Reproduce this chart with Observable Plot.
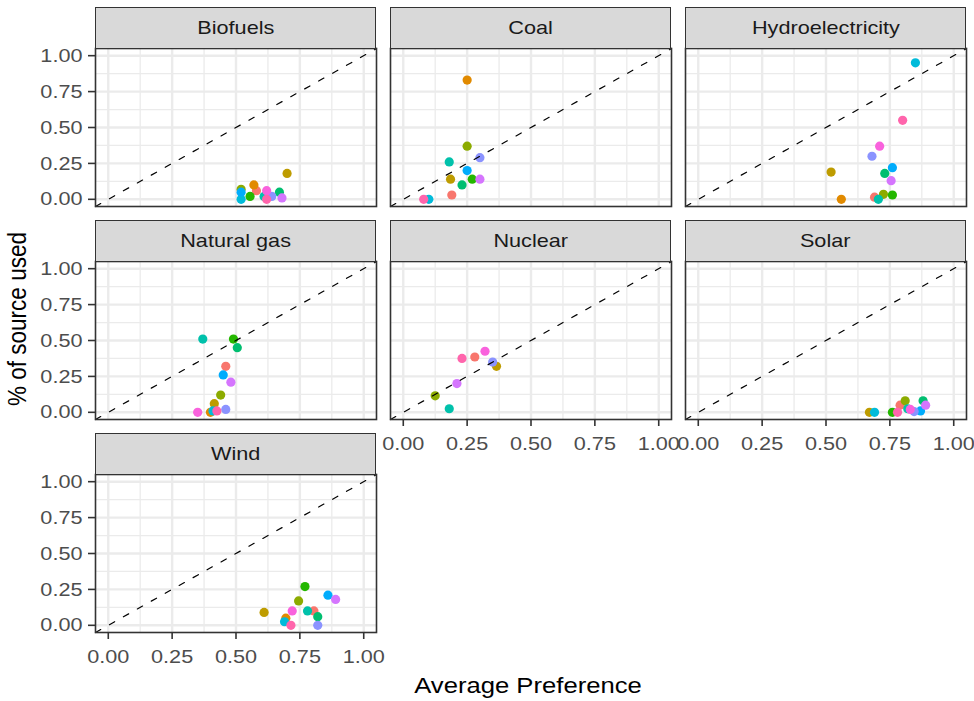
<!DOCTYPE html>
<html>
<head>
<meta charset="utf-8">
<script src="https://cdn.jsdelivr.net/npm/d3@7"></script>
<script src="https://cdn.jsdelivr.net/npm/@observablehq/plot@0.6"></script>
<style>
  body { margin: 0; background: #fff; }
  #chart { position: relative; width: 974px; height: 701px; overflow: hidden;
           font-family: "Liberation Sans", Arial, sans-serif; }
  .strip { position: absolute; box-sizing: border-box; background: #D9D9D9;
           border: 1.6px solid #333; display: flex; align-items: center;
           justify-content: center; color: #1A1A1A; font-size: 19px; }
  .strip span { display: inline-block; transform: scaleX(1.14); }
  .panel { position: absolute; }
  .title { position: absolute; color: #000; font-size: 22.5px; white-space: nowrap; }
</style>
</head>
<body>
<div id="chart"></div>
<script>
// Energy sources, one facet each (wrapped into 3 columns)
const sources = ["Biofuels", "Coal", "Hydroelectricity", "Natural gas", "Nuclear", "Solar", "Wind"];

// Colour groups (13 levels, default hue palette)
const groups = ["g01", "g02", "g03", "g04", "g05", "g06", "g07", "g08", "g09", "g10", "g11", "g12", "g13"];
const palette = ["#F8766D", "#E18A00", "#BE9C00", "#8CAB00", "#24B700", "#00BE70", "#00C1AB",
                 "#00BBDA", "#00ACFC", "#8B93FF", "#D575FE", "#F962DD", "#FF65AC"];

// Per source: group index, average preference, share of the source used
const biofuelsGroup = [0, 1, 2, 3, 4, 5, 6, 7, 8, 9, 10, 11, 12];
const biofuelsPref  = [0.58, 0.57, 0.70, 0.52, 0.555, 0.67, 0.61, 0.52, 0.52, 0.64, 0.68, 0.62, 0.62];
const biofuelsUsed  = [0.06, 0.10, 0.18, 0.07, 0.02, 0.05, 0.02, 0.00, 0.05, 0.02, 0.01, 0.06, 0.00];

const coalGroup = [0, 1, 2, 3, 4, 5, 6, 7, 8, 9, 10, 12];
const coalPref  = [0.19, 0.25, 0.185, 0.25, 0.27, 0.23, 0.18, 0.10, 0.25, 0.30, 0.30, 0.08];
const coalUsed  = [0.03, 0.83, 0.14, 0.37, 0.14, 0.10, 0.26, 0.00, 0.20, 0.29, 0.14, 0.00];

const hydroGroup = [0, 1, 2, 3, 4, 5, 6, 7, 8, 9, 10, 11, 12];
const hydroPref  = [0.69, 0.56, 0.52, 0.725, 0.76, 0.73, 0.705, 0.85, 0.76, 0.68, 0.755, 0.71, 0.80];
const hydroUsed  = [0.015, 0.00, 0.19, 0.035, 0.03, 0.18, 0.00, 0.95, 0.22, 0.30, 0.13, 0.37, 0.55];

const gasGroup = [0, 1, 2, 3, 4, 5, 6, 7, 8, 9, 10, 11, 12];
const gasPref  = [0.46, 0.40, 0.415, 0.44, 0.49, 0.505, 0.37, 0.41, 0.45, 0.46, 0.48, 0.35, 0.425];
const gasUsed  = [0.32, 0.00, 0.06, 0.12, 0.51, 0.45, 0.51, 0.01, 0.26, 0.02, 0.21, 0.00, 0.01];

const nuclearGroup = [0, 2, 3, 6, 9, 10, 11, 12];
const nuclearPref  = [0.28, 0.365, 0.125, 0.18, 0.35, 0.21, 0.32, 0.23];
const nuclearUsed  = [0.385, 0.32, 0.115, 0.025, 0.35, 0.20, 0.425, 0.375];

const solarGroup = [0, 2, 3, 4, 5, 6, 7, 8, 9, 10, 11, 12];
const solarPref  = [0.79, 0.67, 0.81, 0.76, 0.88, 0.82, 0.69, 0.87, 0.845, 0.89, 0.83, 0.78];
const solarUsed  = [0.05, 0.00, 0.08, 0.00, 0.08, 0.025, 0.00, 0.01, 0.005, 0.05, 0.02, 0.00];

const windGroup = [0, 1, 2, 3, 4, 5, 6, 7, 8, 9, 10, 11, 12];
const windPref  = [0.805, 0.695, 0.61, 0.745, 0.77, 0.82, 0.78, 0.69, 0.86, 0.82, 0.89, 0.72, 0.715];
const windUsed  = [0.10, 0.05, 0.09, 0.17, 0.27, 0.06, 0.10, 0.025, 0.21, 0.00, 0.18, 0.10, 0.00];

// Axis ticks
const majorTicks = [0, 0.25, 0.5, 0.75, 1];
const minorTicks = [0.125, 0.375, 0.625, 0.875];
const axisDomain = [-0.05, 1.05];

// Reference line y = intercept + slope * x
const refIntercept = 0, refSlope = 1;

const series = [
  [biofuelsGroup, biofuelsPref, biofuelsUsed],
  [coalGroup, coalPref, coalUsed],
  [hydroGroup, hydroPref, hydroUsed],
  [gasGroup, gasPref, gasUsed],
  [nuclearGroup, nuclearPref, nuclearUsed],
  [solarGroup, solarPref, solarUsed],
  [windGroup, windPref, windUsed]
];

// Facet layout (pixels)
const nCol = 3;
const panelW = 281, panelH = 158, stripH = 41;
const left0 = 95, top0 = 48, colStep = 295, rowStep = 213;
const marginL = 95, marginB = 45;
const fontFamily = '"Liberation Sans", Arial, sans-serif';
const stretch = 1.14;

const chart = document.getElementById("chart");

sources.forEach((name, i) => {
  const col = i % nCol, row = Math.floor(i / nCol);
  const px = left0 + col * colStep, py = top0 + row * rowStep;
  const [grp, pref, used] = series[i];
  const points = grp.map((g, j) => ({group: groups[g], pref: pref[j], used: used[j]}));
  const refLine = axisDomain.map(x => ({x, y: refIntercept + refSlope * x}));
  const showY = col === 0;
  const showX = i + nCol >= sources.length;

  const marks = [
    Plot.gridX(minorTicks, {stroke: "#EBEBEB", strokeOpacity: 1, strokeWidth: 1.3}),
    Plot.gridY(minorTicks, {stroke: "#EBEBEB", strokeOpacity: 1, strokeWidth: 1.3}),
    Plot.gridX(majorTicks, {stroke: "#EBEBEB", strokeOpacity: 1, strokeWidth: 2.4}),
    Plot.gridY(majorTicks, {stroke: "#EBEBEB", strokeOpacity: 1, strokeWidth: 2.4}),
    Plot.dot(points, {x: "pref", y: "used", fill: "group", r: 4.6}),
    Plot.line(refLine, {x: "x", y: "y", stroke: "#000", strokeWidth: 1.2, strokeDasharray: "6,10"}),
    Plot.frame({stroke: "#333", strokeWidth: 1.6})
  ];
  if (showY) marks.push(Plot.axisY(majorTicks, {
    tickSize: 7, tickPadding: 6, tickFormat: d3.format(".2f"), stroke: "#333", strokeWidth: 1.6,
    fill: "#4D4D4D", fontSize: 19, label: null
  }));
  if (showX) marks.push(Plot.axisX(majorTicks, {
    tickSize: 7, tickPadding: 10, tickFormat: d3.format(".2f"), stroke: "#333", strokeWidth: 1.6,
    fill: "#4D4D4D", fontSize: 19, label: null
  }));

  const svg = Plot.plot({
    width: marginL + panelW, height: panelH + marginB,
    marginLeft: marginL, marginRight: 0, marginTop: 0, marginBottom: marginB,
    x: {domain: axisDomain, axis: null},
    y: {domain: axisDomain, axis: null},
    color: {domain: groups, range: palette},
    style: {fontFamily, background: "transparent", overflow: "visible"},
    marks
  });
  svg.classList.add("panel");
  svg.style.left = (px - marginL) + "px";
  svg.style.top = py + "px";
  chart.appendChild(svg);

  const strip = document.createElement("div");
  strip.className = "strip";
  strip.style.left = px + "px";
  strip.style.top = (py - stripH) + "px";
  strip.style.width = panelW + "px";
  strip.style.height = (stripH + 1) + "px";
  const s = document.createElement("span");
  s.textContent = name;
  strip.appendChild(s);
  chart.appendChild(strip);
});

// Slightly wider glyphs for tick labels
chart.querySelectorAll("svg text").forEach(t => {
  const w = t.getComputedTextLength();
  if (w > 0) {
    t.setAttribute("textLength", (w * stretch).toFixed(2));
    t.setAttribute("lengthAdjust", "spacingAndGlyphs");
  }
});

// Axis titles
const yTitle = document.createElement("div");
yTitle.className = "title";
yTitle.textContent = "% of source used";
yTitle.style.left = "18px";
yTitle.style.top = "319px";
yTitle.style.transform = `translate(-50%, -50%) rotate(-90deg) scaleY(${stretch})`;
chart.appendChild(yTitle);

const xTitle = document.createElement("div");
xTitle.className = "title";
xTitle.textContent = "Average Preference";
xTitle.style.left = "528px";
xTitle.style.top = "686px";
xTitle.style.transform = `translate(-50%, -50%) scaleX(${stretch})`;
chart.appendChild(xTitle);
</script>
</body>
</html>
